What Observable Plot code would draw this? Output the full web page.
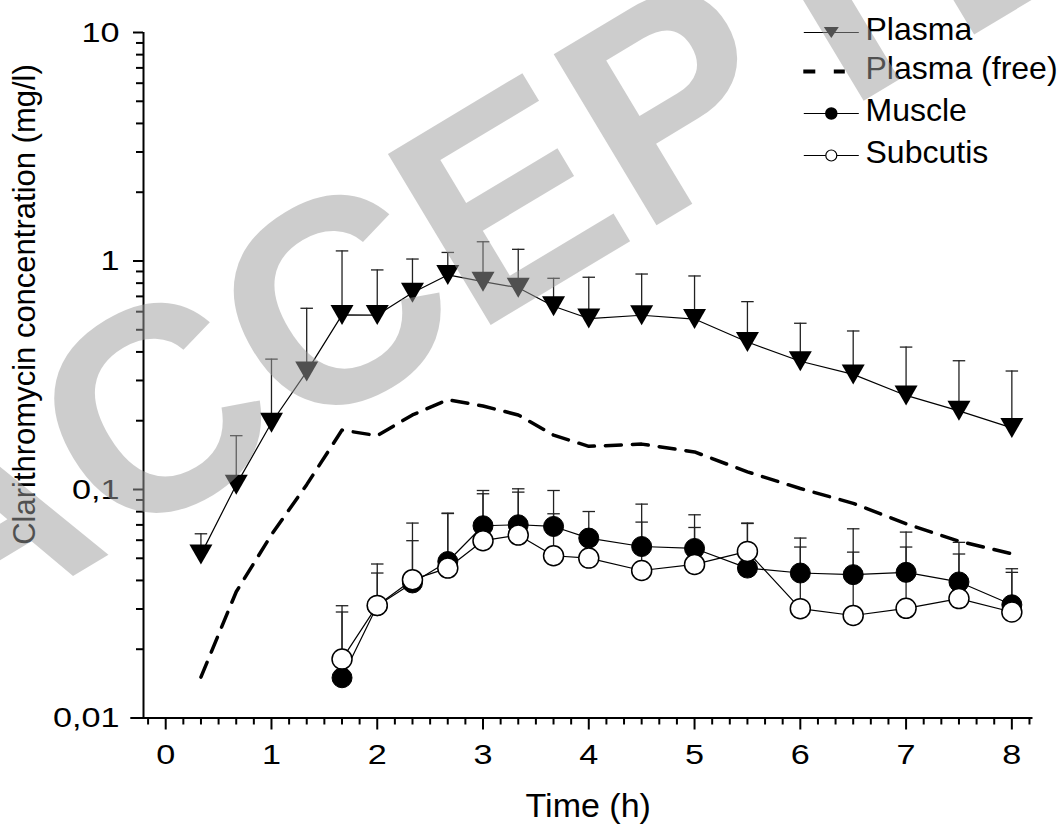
<!DOCTYPE html>
<html><head><meta charset="utf-8">
<script src="https://cdn.jsdelivr.net/npm/d3@7"></script>
<script src="https://cdn.jsdelivr.net/npm/@observablehq/plot@0.6"></script>
<style>
html,body{margin:0;padding:0;background:#fff;}
#chart svg{display:block;}
</style>
</head><body><div id="chart"></div>
<script>
// ---- data ----
const times = [0.333, 0.667, 1, 1.333, 1.667, 2, 2.333, 2.667, 3, 3.333, 3.667, 4, 4.5, 5, 5.5, 6, 6.5, 7, 7.5, 8];
const plasma = [0.052, 0.105, 0.196, 0.328, 0.581, 0.58, 0.726, 0.869, 0.812, 0.764, 0.634, 0.56, 0.579, 0.557, 0.442, 0.364, 0.319, 0.258, 0.221, 0.186];
const plasmaUpper = [0.064, 0.172, 0.372, 0.621, 1.107, 0.914, 1.02, 1.09, 1.214, 1.125, 0.84, 0.849, 0.877, 0.86, 0.664, 0.534, 0.494, 0.42, 0.366, 0.33];
const plasmaFree = [0.0151, 0.0357, 0.0634, 0.105, 0.182, 0.172, 0.212, 0.247, 0.232, 0.212, 0.173, 0.1545, 0.158, 0.146, 0.1195, 0.101, 0.087, 0.0708, 0.0594, 0.0523];

const tissueTimes = [1.667, 2, 2.333, 2.667, 3, 3.333, 3.667, 4, 4.5, 5, 5.5, 6, 6.5, 7, 7.5, 8];
const muscle = [0.015, 0.031, 0.039, 0.0484, 0.0694, 0.0701, 0.0689, 0.0613, 0.0563, 0.0552, 0.0453, 0.0431, 0.0424, 0.0434, 0.0394, 0.0313];
const muscleUpper = [0.031, 0.0472, 0.0713, 0.0788, 0.099, 0.1007, 0.099, 0.0801, 0.0863, 0.0775, 0.0713, 0.0613, 0.0673, 0.0651, 0.0587, 0.045];
const subcutis = [0.0181, 0.0311, 0.0403, 0.0453, 0.0597, 0.0632, 0.0513, 0.0501, 0.0442, 0.047, 0.0536, 0.0301, 0.0281, 0.0302, 0.0333, 0.0291];
const subcutisUpper = [0.0291, 0.0431, 0.0597, 0.0785, 0.0958, 0.0974, 0.0783, 0.062, 0.072, 0.0682, 0.071, 0.056, 0.0532, 0.056, 0.0522, 0.0434];

const xTicks = [0, 1, 2, 3, 4, 5, 6, 7, 8];
const yTicks = [0.01, 0.1, 1, 10];
const yTickLabels = ["0,01", "0,1", "1", "10"];
const seriesNames = ["Plasma", "Plasma (free)", "Muscle", "Subcutis"];
const xLabel = "Time (h)";
const yLabel = "Clarithromycin concentration (mg/l)";
const watermark = "ACCEPTED";

// ---- derived tables ----
const plasmaData = times.map((t, i) => ({t, v: plasma[i], hi: plasmaUpper[i]}));
const freeData = times.map((t, i) => ({t, v: plasmaFree[i]}));
const muscleData = tissueTimes.map((t, i) => ({t, v: muscle[i], hi: muscleUpper[i]}));
const subData = tissueTimes.map((t, i) => ({t, v: subcutis[i], hi: subcutisUpper[i]}));
const xMinor = d3.range(-1, 50).map(k => k / 6).filter(v => Math.abs(v - Math.round(v)) > 1e-6);
const yMinor = [0.01, 0.1, 1].flatMap(b => d3.range(2, 10).map(k => +(k * b).toPrecision(3)));

// ---- custom symbols ----
const triDown = (w, h) => ({draw(c) { c.moveTo(-w / 2, -h / 2); c.lineTo(w / 2, -h / 2); c.lineTo(0, h / 2); c.closePath(); }});
const hLine = (w) => ({draw(c) { c.moveTo(-w / 2, 0); c.lineTo(w / 2, 0); }});
const dashPair = {draw(c) { c.moveTo(-28, 0); c.lineTo(-16, 0); c.moveTo(2.5, 0); c.lineTo(13.5, 0); }};

const font = "'Liberation Sans', Arial, Helvetica, sans-serif";
const ML = 143, MT = 32;

// legend
const legendSymX = 830.8 - ML, legendTextX = 865 - ML;
const legendSymY = [32, 71, 113, 155].map(v => v - MT);
const legendTextY = [29, 68, 110.5, 152].map(v => v - MT);
const legendMarks = [];
seriesNames.forEach((name, i) => {
  const base = {frameAnchor: "top-left", dx: legendSymX, dy: legendSymY[i]};
  if (i === 1) {
    legendMarks.push(Plot.dot([name], {...base, symbol: dashPair, stroke: "black", strokeWidth: 4, fill: "none"}));
  } else {
    legendMarks.push(Plot.dot([name], {...base, symbol: hLine(55), stroke: "black", strokeWidth: 1.2, fill: "none"}));
    if (i === 0) legendMarks.push(Plot.dot([name], {...base, symbol: triDown(15, 11), fill: "black", stroke: "none"}));
    if (i === 2) legendMarks.push(Plot.dot([name], {...base, r: 5.5, fill: "black", stroke: "black"}));
    if (i === 3) legendMarks.push(Plot.dot([name], {...base, r: 5.5, fill: "white", stroke: "black", strokeWidth: 1.2}));
  }
  legendMarks.push(Plot.text([name], {frameAnchor: "top-left", dx: legendTextX, dy: legendTextY[i], text: d => d,
    textAnchor: "start", lineAnchor: "middle", fontSize: 32, fill: "black"}));
});

const errMarks = (data, color) => [
  Plot.ruleX(data, {x: "t", y1: "v", y2: "hi", stroke: color, strokeWidth: 1.3}),
  Plot.dot(data, {x: "t", y: "hi", symbol: hLine(12.5), stroke: color, strokeWidth: 1.3, fill: "none"})
];

const chart = Plot.plot({
  width: 1062, height: 830,
  marginLeft: ML, marginRight: 29.5, marginTop: MT, marginBottom: 112.5,
  style: {fontFamily: font, background: "white", color: "black", overflow: "visible"},
  x: {type: "linear", domain: [-0.21, 8.2]},
  y: {type: "log", domain: [0.01, 10]},
  marks: [
    // axes
    Plot.axisX({ticks: xMinor, tickSize: 7, tickFormat: () => "", label: null, strokeWidth: 2}),
    Plot.axisX({ticks: xTicks, tickSize: 12, tickPadding: 14, tickFormat: d => String(d), label: null, strokeWidth: 2, fontSize: 28.5}),
    Plot.axisY({ticks: yMinor, tickSize: 7, tickFormat: () => "", label: null, strokeWidth: 2}),
    Plot.axisY({ticks: yTicks, tickSize: 10, tickPadding: 14, tickFormat: d => yTickLabels[yTicks.indexOf(d)], label: null, strokeWidth: 2, fontSize: 28.5}),
    Plot.ruleY([0.01], {x1: -0.33, x2: 8.2, stroke: "black", strokeWidth: 2}),
    Plot.ruleX([-0.21], {y1: 0.01, y2: 10, stroke: "black", strokeWidth: 2}),
    Plot.text([xLabel], {frameAnchor: "bottom", dy: 88, fontSize: 34, textAnchor: "middle", lineAnchor: "middle", text: d => d}),
    Plot.text([yLabel], {frameAnchor: "left", dx: -118, dy: -70.75, rotate: -90, fontSize: 31, textAnchor: "middle", lineAnchor: "middle", text: d => d}),
    // plasma (free)
    Plot.line(freeData, {x: "t", y: "v", stroke: "black", strokeWidth: 3.5, strokeDasharray: "16,11"}),
    // plasma
    Plot.line(plasmaData, {x: "t", y: "v", stroke: "black", strokeWidth: 1.2}),
    ...errMarks(plasmaData, "#222"),
    Plot.dot(plasmaData, {x: "t", y: "v", symbol: triDown(23, 20), fill: "black", stroke: "none"}),
    // tissues
    Plot.line(muscleData, {x: "t", y: "v", stroke: "black", strokeWidth: 1.2}),
    Plot.line(subData, {x: "t", y: "v", stroke: "black", strokeWidth: 1.2}),
    ...errMarks(subData, "#222"),
    ...errMarks(muscleData, "#222"),
    Plot.dot(muscleData, {x: "t", y: "v", r: 10, fill: "black", stroke: "black", strokeWidth: 1}),
    Plot.dot(subData, {x: "t", y: "v", r: 10, fill: "white", stroke: "black", strokeWidth: 1.5}),
    ...legendMarks,
    // watermark on top
    Plot.text([watermark], {frameAnchor: "top-left", dx: -255.8, dy: 546.5, rotate: -31, textAnchor: "start", lineAnchor: "middle",
      fontSize: 290, fontWeight: "bold", fill: "#9c9c9c", fillOpacity: 0.51, text: d => d})
  ]
});

// widen tick-label glyphs like the reference
chart.querySelectorAll('g[aria-label="x-axis tick label"] text, g[aria-label="y-axis tick label"] text').forEach(t => {
  const tr = t.getAttribute("transform");
  if (tr) t.setAttribute("transform", tr + " scale(1.2,1)");
});
document.getElementById("chart").appendChild(chart);
</script>
</body></html>
